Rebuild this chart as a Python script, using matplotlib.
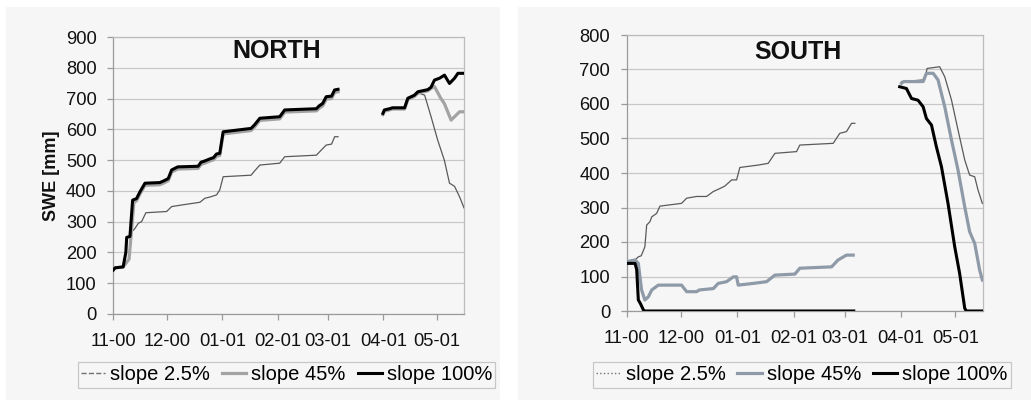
import numpy as np
import matplotlib.pyplot as plt
from matplotlib.lines import Line2D
from matplotlib.patches import Rectangle

plt.rcParams['font.family'] = ['Liberation Sans', 'DejaVu Sans']

# x = days since 1 Nov 2000, SWE in mm; each series has an autumn/winter
# segment and a spring segment with a gap in March
month_days = [0, 30, 61, 92, 120, 151, 181]
month_labels = ['11-00', '12-00', '01-01', '02-01', '03-01', '04-01', '05-01']

# NORTH
north_100_day_a = [0, 1, 5.5, 7, 7.5, 9.3, 10.8, 13, 14.9, 17.7, 26, 28, 30.7, 32.6, 36, 47.4, 49, 51,
                   54, 56, 57.7, 59.5, 61.4, 77, 79, 81.9, 93, 95.8, 113.5, 115, 117, 119, 122, 123.7, 125.6]
north_100_swe_a = [143, 150, 153, 200, 249, 252, 370, 375, 397, 425, 427, 432, 440, 468, 478, 480, 493, 497,
                   504, 508, 520, 522, 592, 603, 615, 636, 641, 663, 667, 676, 684, 706, 708, 728, 730]
north_100_day_b = [150.7, 151.5, 154.4, 156, 162.8, 164.6, 168.3, 170.2, 175.8, 177.6, 179.5, 182.3,
                   185.1, 187.9, 190.7, 192.6, 196]
north_100_swe_b = [652, 663, 667, 670, 670, 701, 711, 722, 729, 737, 760, 766, 776, 749, 766, 782, 782]

north_45_day_a = [0, 1, 5.5, 7, 8.8, 10, 11.5, 13, 14.9, 17.7, 26, 28, 30.7, 32.6, 36, 47.4, 49, 51,
                  54, 56, 57.7, 59.5, 61.4, 77, 79, 81.9, 93, 95.8, 113.5, 115, 117, 119, 122, 123.7, 125.6]
north_45_swe_a = [143, 150, 153, 165, 178, 260, 362, 368, 390, 418, 420, 425, 433, 461, 471, 473, 486, 490,
                  497, 501, 512, 515, 585, 596, 608, 629, 634, 656, 660, 668, 676, 698, 700, 720, 722]
north_45_day_b = [150.7, 151.5, 154.4, 156, 162.8, 164.6, 168.3, 170.2, 175.8, 177.6, 179.5, 183, 185,
                  188.8, 190.7, 193.5, 196]
north_45_swe_b = [648, 659, 663, 666, 666, 697, 707, 718, 725, 733, 739, 701, 684, 630, 641, 657, 657]

north_25_day_a = [0, 1, 5.5, 7, 8.4, 10.3, 12, 14, 15.8, 18.2, 29.8, 32.6, 38, 48.4, 51.2, 54, 57.7, 59.5,
                  61.4, 77, 79, 81.9, 93, 95.8, 113.5, 116.3, 119, 122, 123.7, 125.6]
north_25_swe_a = [143, 150, 153, 160, 175, 267, 277, 295, 300, 329, 333, 349, 354, 363, 376, 380, 387, 403,
                  446, 451, 465, 484, 490, 511, 516, 533, 549, 552, 576, 576]
north_25_day_b = [150.7, 151.5, 154.4, 156, 162.8, 164.6, 168.3, 171.1, 174, 177.6, 181.3, 185, 187.9,
                  190.7, 193.5, 196]
north_25_swe_b = [648, 659, 663, 666, 666, 697, 707, 717, 711, 641, 565, 500, 425, 415, 381, 345]

# SOUTH
south_100_day_a = [0, 4.6, 5.5, 6.4, 7.5, 9.2, 10, 125]
south_100_swe_a = [138, 138, 120, 32, 22, 3, 0, 0]
south_100_day_b = [150.3, 154, 156.8, 160.4, 163.2, 165, 167.8, 170.5, 173.3, 176.9, 180.6, 183.3,
                   186.1, 187, 196]
south_100_swe_b = [650, 645, 616, 611, 592, 558, 539, 476, 418, 312, 186, 109, 8, 0, 0]

south_45_day_a = [0, 4.6, 6.4, 8.2, 10, 11.9, 13.8, 17.4, 30.2, 33, 38.5, 40, 47.7, 50.4, 55, 58.7, 60.5,
                  61.4, 69.7, 77, 81.6, 92.6, 95.3, 112.8, 116.4, 121, 124.7]
south_45_swe_a = [143, 148, 138, 61, 32, 41, 61, 75, 75, 56, 56, 61, 65, 80, 85, 99, 99,
                  75, 80, 85, 104, 107, 124, 128, 148, 162, 162]
south_45_day_b = [151.3, 152.5, 163.2, 165, 168.7, 171.4, 175.1, 178.8, 182.4, 186.1, 188.8, 191.6,
                  194.3, 195.8]
south_45_swe_b = [660, 665, 665, 689, 689, 670, 592, 496, 409, 302, 230, 196, 119, 90]

south_25_day_a = [0, 4.6, 6.4, 8, 10, 11, 12.8, 13.8, 16.5, 18.3, 30.2, 33, 38.5, 44, 47.6, 51.3, 54, 57.8,
                  60.5, 62.3, 72.4, 77.9, 81.6, 93.5, 95.3, 113.7, 117.3, 121, 123.8, 125.6]
south_25_swe_a = [143, 148, 157, 160, 186, 249, 259, 273, 283, 304, 312, 327, 332, 332, 346, 355, 362, 380,
                  380, 416, 423, 428, 457, 462, 481, 486, 515, 520, 544, 544]
south_25_day_b = [151.3, 164, 165.4, 172.3, 175.1, 178.8, 182.4, 186.1, 188.8, 191.6, 193.4, 195.8]
south_25_swe_b = [665, 670, 703, 708, 679, 612, 525, 438, 394, 389, 351, 312]


def joined(d_a, v_a, d_b, v_b):
    # two segments separated by a NaN so the line breaks
    d = np.concatenate([d_a, [np.nan], d_b])
    v = np.concatenate([v_a, [np.nan], v_b])
    return d, v


bg = '#f6f6f6'
fig = plt.figure(figsize=(10.31, 4.03), dpi=100, facecolor='white')
W, H = 1031, 403
fig.patches.append(Rectangle((6 / W, 3 / H), 494 / W, 393 / H, transform=fig.transFigure,
                             facecolor=bg, edgecolor='none', zorder=-10))
fig.patches.append(Rectangle((518 / W, 3 / H), 513 / W, 393 / H, transform=fig.transFigure,
                             facecolor=bg, edgecolor='none', zorder=-10))

ax1 = fig.add_axes([113.3 / W, (H - 314) / H, 350.7 / W, 277 / H])
ax2 = fig.add_axes([626.7 / W, (H - 311) / H, 356 / W, 276 / H])

panels = [
    (ax1, 'NORTH', 900, (0.467, 0.951), '#a3a3a3',
     [joined(north_25_day_a, north_25_swe_a, north_25_day_b, north_25_swe_b),
      joined(north_45_day_a, north_45_swe_a, north_45_day_b, north_45_swe_b),
      joined(north_100_day_a, north_100_swe_a, north_100_day_b, north_100_swe_b)],
     (80, 493), '--'),
    (ax2, 'SOUTH', 800, (0.481, 0.938), '#8e9aa8',
     [joined(south_25_day_a, south_25_swe_a, south_25_day_b, south_25_swe_b),
      joined(south_45_day_a, south_45_swe_a, south_45_day_b, south_45_swe_b),
      joined(south_100_day_a, south_100_swe_a, south_100_day_b, south_100_swe_b)],
     (592, 1012), ':'),
]

for ax, name, ymax, tpos, grey45, series, (lx0, lx1), dash in panels:
    ax.set_facecolor(bg)
    (d25, v25), (d45, v45), (d100, v100) = series
    ax.plot(d25, v25, color='#5a5a5a', lw=0.9, zorder=3)
    ax.plot(d45, v45, color=grey45, lw=2.3, zorder=4)
    ax.plot(d100, v100, color='black', lw=2.2, zorder=5)

    ax.set_xlim(0, 196)
    ax.set_ylim(0, ymax)
    ax.set_xticks(month_days)
    ax.set_xticklabels(month_labels)
    ax.set_yticks(range(0, ymax + 1, 100))
    ax.yaxis.grid(True, color='#c8c8c8', lw=0.9)
    ax.set_axisbelow(True)
    for s in ax.spines.values():
        s.set_color('#bcbcbc')
        s.set_linewidth(0.9)
    ax.spines['left'].set_color('#9a9a9a')
    ax.spines['bottom'].set_color('#9a9a9a')
    ax.tick_params(axis='both', labelsize=13.2, colors='#9a9a9a', labelcolor='#111111',
                   length=4, width=0.9, direction='out')
    ax.tick_params(axis='x', pad=10)
    ax.tick_params(axis='y', pad=8)

    ax.text(tpos[0], tpos[1], name, transform=ax.transAxes, ha='center', va='center',
            fontsize=18, fontweight='bold', color='#111111')

    handles = [Line2D([], [], color='#707070', lw=1.0, ls=dash),
               Line2D([], [], color=grey45, lw=2.3),
               Line2D([], [], color='black', lw=2.2)]
    leg = fig.legend(handles, ['slope 2.5%', 'slope 45%', 'slope 100%'],
                     loc='center', bbox_to_anchor=((lx0 + lx1) / 2 / W, (H - 375) / H),
                     ncol=3, fontsize=14.5, frameon=True, fancybox=False,
                     borderpad=0.15, handlelength=1.2, handletextpad=0.25,
                     columnspacing=0.6, borderaxespad=0)
    leg.get_frame().set_edgecolor('#bcbcbc')
    leg.get_frame().set_facecolor(bg)
    leg.get_frame().set_linewidth(0.9)

ax1.set_ylabel('SWE [mm]', fontsize=13, fontweight='bold', color='#111111', labelpad=4)

fig.savefig('out.png', dpi=100, facecolor='white')
